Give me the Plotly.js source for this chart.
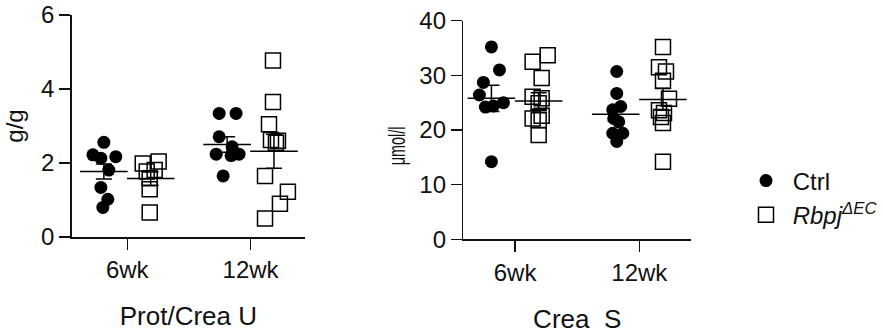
<!DOCTYPE html>
<html><head><meta charset="utf-8">
<script src="https://cdn.plot.ly/plotly-3.0.1.min.js"></script>
<style>html,body{margin:0;padding:0;background:#fff}#chart{width:883px;height:335px}</style>
</head><body><div id="chart"></div>
<script>
// ---------- data ----------
const categories = ['6wk', '12wk'];
const groupNames = ['Ctrl', 'Rbpj'];

// Panel 1: Prot/Crea U (g/g)
const protCtrl6  = [2.56, 2.22, 2.13, 2.17, 1.81, 1.34, 1.02, 0.80];
const protRbpj6  = [1.99, 2.04, 1.77, 1.81, 1.59, 1.29, 0.66];
const protCtrl12 = [3.34, 3.34, 2.71, 2.24, 2.44, 2.20, 2.24, 1.65];
const protRbpj12 = [4.77, 3.65, 3.05, 2.62, 2.60, 2.55, 1.65, 1.22, 0.90, 0.50];
const protCtrlMean = [1.77, 2.50];
const protCtrlSem  = [0.20, 0.21];
const protRbpjMean = [1.58, 2.32];
const protRbpjSem  = [0.18, 0.46];

// Panel 2: Crea S (µmol/l)
const creaCtrl6  = [35.2, 31.0, 28.7, 26.4, 24.2, 24.4, 25.0, 14.2];
const creaRbpj6  = [32.5, 33.7, 29.5, 26.1, 25.8, 24.9, 22.6, 22.1, 21.8, 19.1];
const creaCtrl12 = [30.7, 26.7, 24.3, 23.7, 22.1, 21.5, 19.4, 19.4, 17.9];
const creaRbpj12 = [35.2, 31.5, 30.7, 29.0, 25.7, 23.6, 23.1, 22.4, 21.3, 14.2];
const creaCtrlMean = [25.8, 22.9];
const creaCtrlSem  = [2.4, 1.3];
const creaRbpjMean = [25.3, 25.6];
const creaRbpjSem  = [1.5, 2.0];

// ---------- positions / styles (not data) ----------
const groupOffset = {Ctrl: -0.19, Rbpj: 0.19};
const JIT = 1 / 124; // horizontal scatter, in category units per step
const jitProtCtrl6  = [0, -11, -3, 12, 5, -3, 4, -1];
const jitProtRbpj6  = [-8, 8, -4, 4, -1, -1, -1];
const jitProtCtrl12 = [-8, 9, -8, -11, 5, 4, 12, -4];
const jitProtRbpj12 = [-1, -1, -5, -3, 4, 2, -9, 14, 6, -9];
const jitCreaCtrl6  = [0, 8, -8, -12, -6, 2, 12, 0];
const jitCreaRbpj6  = [-6, 9, 3, -6, 3, 0, 3, -6, 0, 0];
const jitCreaCtrl12 = [1, 1, 5, -3, -2, 3, -3, 7, 1];
const jitCreaRbpj12 = [0, -4, 3, 0, 6, -4, 1, -2, 0, 0];

const FONT = 'Liberation Sans, Arial, sans-serif';
const INK = '#111';

function pts(group, catIdx, vals, jit) {
  return {
    x: vals.map((v, i) => catIdx + groupOffset[group] + jit[i] * JIT),
    y: vals
  };
}
function groupTrace(group, parts, xa, ya, showLegend) {
  const x = [], y = [];
  parts.forEach(p => { x.push(...p.x); y.push(...p.y); });
  const isCtrl = group === 'Ctrl';
  return {
    type: 'scatter', mode: 'markers', x, y, xaxis: xa, yaxis: ya,
    name: isCtrl ? '\u00a0Ctrl' : '\u00a0<i>Rbpj<sup>ΔEC</sup></i>',
    legendgroup: group, showlegend: showLegend, cliponaxis: false,
    marker: isCtrl
      ? {symbol: 'circle', size: 13, color: '#000', line: {width: 0}}
      : {symbol: 'square-open', size: 15, color: '#000', line: {width: 1.5}}
  };
}
function meanTrace(group, means, sems, xa, ya) {
  return {
    type: 'scatter', mode: 'markers', xaxis: xa, yaxis: ya,
    x: categories.map((c, i) => i + groupOffset[group]), y: means,
    showlegend: false, hoverinfo: 'skip', cliponaxis: false,
    marker: {symbol: 'line-ew', size: 34, color: '#000', line: {width: 1.5, color: '#000'}},
    error_y: {type: 'data', array: sems, visible: true, color: '#000', thickness: 1.5, width: 8}
  };
}

const traces = [
  groupTrace('Ctrl', [pts('Ctrl', 0, protCtrl6, jitProtCtrl6), pts('Ctrl', 1, protCtrl12, jitProtCtrl12)], 'x', 'y', true),
  groupTrace('Rbpj', [pts('Rbpj', 0, protRbpj6, jitProtRbpj6), pts('Rbpj', 1, protRbpj12, jitProtRbpj12)], 'x', 'y', true),
  meanTrace('Ctrl', protCtrlMean, protCtrlSem, 'x', 'y'),
  meanTrace('Rbpj', protRbpjMean, protRbpjSem, 'x', 'y'),
  groupTrace('Ctrl', [pts('Ctrl', 0, creaCtrl6, jitCreaCtrl6), pts('Ctrl', 1, creaCtrl12, jitCreaCtrl12)], 'x2', 'y2', false),
  groupTrace('Rbpj', [pts('Rbpj', 0, creaRbpj6, jitCreaRbpj6), pts('Rbpj', 1, creaRbpj12, jitCreaRbpj12)], 'x2', 'y2', false),
  meanTrace('Ctrl', creaCtrlMean, creaCtrlSem, 'x2', 'y2'),
  meanTrace('Rbpj', creaRbpjMean, creaRbpjSem, 'x2', 'y2')
];

const axBase = {
  showline: true, linewidth: 1.5, linecolor: INK, showgrid: false, zeroline: false,
  ticks: 'outside', ticklen: 11, tickwidth: 1.5, tickcolor: INK,
  tickfont: {family: FONT, size: 24, color: INK}, fixedrange: true
};
const layout = {
  width: 883, height: 335, margin: {l: 0, r: 0, t: 0, b: 0},
  paper_bgcolor: '#fff', plot_bgcolor: 'rgba(0,0,0,0)',
  font: {family: FONT, color: INK},
  showlegend: true,
  legend: {x: 0.85, y: 0.527, xanchor: 'left', yanchor: 'top', bgcolor: 'rgba(0,0,0,0)',
           font: {family: FONT, size: 24, color: INK}, tracegroupgap: 0, itemsizing: 'trace'},
  xaxis: Object.assign({}, axBase, {domain: [0.0815, 0.3477], range: [-0.452, 1.444], anchor: 'y',
    tickvals: [0, 1], ticktext: categories,
    title: {text: 'Prot/Crea U', font: {family: FONT, size: 26, color: INK}, standoff: 24}}),
  yaxis: Object.assign({}, axBase, {domain: [0.2925, 0.9552], range: [0, 6], dtick: 2, anchor: 'x',
    title: {text: 'g/g', font: {family: FONT, size: 24, color: INK}, standoff: 10}}),
  xaxis2: Object.assign({}, axBase, {domain: [0.5277, 0.7871], range: [-0.416, 1.416], anchor: 'y2',
    tickvals: [0, 1], ticktext: categories,
    title: {text: 'Crea\u00a0 S', font: {family: FONT, size: 26, color: INK}, standoff: 25}}),
  yaxis2: Object.assign({}, axBase, {domain: [0.2857, 0.9382], range: [0, 40], dtick: 10, anchor: 'x2',
    title: {text: 'μmol/l', font: {family: FONT, size: 24, color: INK}, standoff: 10}})
};
Plotly.newPlot('chart', traces, layout, {displayModeBar: false, staticPlot: true}).then(gd => {
  // the reference draws the right-hand y title condensed along its length and a little below centre
  const t = gd.querySelector('.g-y2title text');
  if (t) {
    const x0 = parseFloat(t.getAttribute('x'));
    const y0 = parseFloat(t.getAttribute('y'));
    t.setAttribute('transform',
      `translate(${x0 + 3},${y0 + 16}) rotate(-90) scale(0.6,1) translate(${-x0},${-y0})`);
  }
});
</script>
</body></html>
